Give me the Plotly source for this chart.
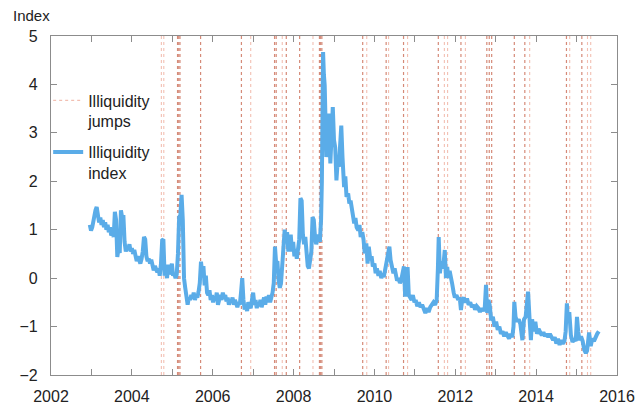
import plotly.graph_objects as go

# Illiquidity index (decimal years, index level)
index_dates = [
    2002.96, 2002.99, 2003.02, 2003.06, 2003.10, 2003.13, 2003.16, 2003.19, 2003.22, 2003.25,
    2003.28, 2003.31, 2003.34, 2003.37, 2003.40, 2003.43, 2003.46, 2003.49, 2003.52, 2003.55,
    2003.58, 2003.61, 2003.64, 2003.67, 2003.70, 2003.73, 2003.76, 2003.79, 2003.82, 2003.85,
    2003.88, 2003.91, 2003.94, 2003.97, 2004.00, 2004.03, 2004.06, 2004.09, 2004.12, 2004.15,
    2004.18, 2004.21, 2004.24, 2004.27, 2004.30, 2004.33, 2004.36, 2004.39, 2004.42, 2004.45,
    2004.48, 2004.51, 2004.54, 2004.57, 2004.60, 2004.63, 2004.66, 2004.69, 2004.72, 2004.75,
    2004.78, 2004.81, 2004.84, 2004.87, 2004.90, 2004.93, 2004.96, 2004.99, 2005.02, 2005.05,
    2005.08, 2005.11, 2005.14, 2005.17, 2005.20, 2005.23, 2005.26, 2005.29, 2005.32, 2005.35,
    2005.38, 2005.41, 2005.44, 2005.47, 2005.50, 2005.53, 2005.56, 2005.59, 2005.62, 2005.65,
    2005.68, 2005.71, 2005.74, 2005.77, 2005.80, 2005.83, 2005.86, 2005.89, 2005.92, 2005.95,
    2005.98, 2006.01, 2006.04, 2006.07, 2006.10, 2006.13, 2006.16, 2006.19, 2006.22, 2006.25,
    2006.28, 2006.31, 2006.34, 2006.37, 2006.40, 2006.43, 2006.46, 2006.49, 2006.52, 2006.55,
    2006.58, 2006.61, 2006.64, 2006.67, 2006.70, 2006.73, 2006.76, 2006.79, 2006.82, 2006.85,
    2006.88, 2006.91, 2006.94, 2006.97, 2007.00, 2007.03, 2007.06, 2007.09, 2007.12, 2007.15,
    2007.18, 2007.21, 2007.24, 2007.27, 2007.30, 2007.33, 2007.36, 2007.39, 2007.42, 2007.45,
    2007.48, 2007.51, 2007.54, 2007.57, 2007.60, 2007.63, 2007.66, 2007.69, 2007.72, 2007.75,
    2007.78, 2007.81, 2007.84, 2007.87, 2007.90, 2007.93, 2007.96, 2007.99, 2008.02, 2008.05,
    2008.08, 2008.11, 2008.14, 2008.17, 2008.20, 2008.23, 2008.26, 2008.29, 2008.32, 2008.35,
    2008.38, 2008.41, 2008.44, 2008.47, 2008.50, 2008.53, 2008.56, 2008.59, 2008.62, 2008.65,
    2008.68, 2008.70, 2008.71, 2008.73, 2008.75, 2008.77, 2008.79, 2008.81, 2008.84, 2008.87,
    2008.91, 2008.94, 2008.97, 2009.00, 2009.03, 2009.06, 2009.09, 2009.12, 2009.15, 2009.18,
    2009.21, 2009.25, 2009.28, 2009.31, 2009.35, 2009.38, 2009.41, 2009.44, 2009.47, 2009.50,
    2009.53, 2009.56, 2009.60, 2009.63, 2009.66, 2009.70, 2009.73, 2009.76, 2009.80, 2009.83,
    2009.86, 2009.90, 2009.93, 2009.96, 2010.00, 2010.03, 2010.06, 2010.10, 2010.13, 2010.17,
    2010.20, 2010.23, 2010.26, 2010.30, 2010.33, 2010.37, 2010.40, 2010.43, 2010.47, 2010.50,
    2010.53, 2010.56, 2010.60, 2010.63, 2010.66, 2010.70, 2010.73, 2010.76, 2010.79, 2010.82,
    2010.85, 2010.88, 2010.92, 2010.95, 2010.99, 2011.02, 2011.06, 2011.10, 2011.14, 2011.18,
    2011.22, 2011.26, 2011.30, 2011.34, 2011.38, 2011.42, 2011.46, 2011.50, 2011.54, 2011.57,
    2011.59, 2011.62, 2011.65, 2011.68, 2011.71, 2011.74, 2011.77, 2011.80, 2011.83, 2011.86,
    2011.89, 2011.92, 2011.96, 2011.99, 2012.03, 2012.07, 2012.11, 2012.14, 2012.17, 2012.21,
    2012.25, 2012.29, 2012.33, 2012.37, 2012.41, 2012.45, 2012.49, 2012.53, 2012.57, 2012.61,
    2012.65, 2012.69, 2012.73, 2012.76, 2012.79, 2012.82, 2012.85, 2012.89, 2012.93, 2012.97,
    2013.01, 2013.05, 2013.09, 2013.13, 2013.17, 2013.21, 2013.25, 2013.29, 2013.33, 2013.37,
    2013.41, 2013.44, 2013.46, 2013.49, 2013.53, 2013.57, 2013.61, 2013.66, 2013.70, 2013.74,
    2013.77, 2013.80, 2013.84, 2013.87, 2013.90, 2013.94, 2013.98, 2014.02, 2014.06, 2014.10,
    2014.14, 2014.18, 2014.22, 2014.26, 2014.30, 2014.34, 2014.38, 2014.42, 2014.46, 2014.50,
    2014.54, 2014.58, 2014.62, 2014.66, 2014.70, 2014.73, 2014.76, 2014.79, 2014.82, 2014.86,
    2014.90, 2014.94, 2014.98, 2015.01, 2015.04, 2015.07, 2015.11, 2015.15, 2015.19, 2015.23,
    2015.26, 2015.29, 2015.31, 2015.35, 2015.39, 2015.43, 2015.47, 2015.51, 2015.55,
]
index_values = [
    1.10, 0.98, 1.05, 1.25, 1.40, 1.47, 1.30, 1.15, 1.25, 1.10,
    1.20, 1.05, 1.15, 1.00, 1.10, 0.95, 1.05, 0.88, 0.95, 0.85,
    1.37, 1.20, 0.44, 0.60, 0.52, 1.40, 1.25, 1.30, 0.75, 0.55,
    0.65, 0.58, 0.70, 0.55, 0.62, 0.50, 0.58, 0.44, 0.35, 0.45,
    0.38, 0.30, 0.40, 0.55, 0.85, 0.80, 0.45, 0.35, 0.40, 0.30,
    0.38, 0.22, 0.16, 0.25, 0.18, 0.12, 0.20, 0.05, 0.30, 0.78,
    0.80, 0.05, 0.20, 0.00, 0.28, 0.08, 0.15, 0.30, 0.05, 0.10,
    0.00, 0.08, 0.50, 1.26, 1.30, 1.72, 1.20, 0.00, -0.20, -0.35,
    -0.55, -0.40, -0.45, -0.35, -0.42, -0.30, -0.45, -0.35, -0.40, -0.28,
    -0.10, 0.34, 0.10, 0.25, -0.15, 0.05, -0.30, -0.35, -0.25, -0.45,
    -0.35, -0.50, -0.38, -0.45, -0.30, -0.55, -0.42, -0.35, -0.45, -0.30,
    -0.40, -0.35, -0.48, -0.40, -0.55, -0.45, -0.50, -0.40, -0.55, -0.45,
    -0.52, -0.60, -0.50, -0.55, -0.30, 0.00, -0.45, -0.65, -0.55, -0.68,
    -0.50, -0.60, -0.62, -0.45, -0.30, -0.55, -0.45, -0.62, -0.50, -0.58,
    -0.45, -0.60, -0.50, -0.40, -0.55, -0.38, -0.50, -0.35, -0.50, -0.40,
    -0.30, -0.10, 0.65, 0.30, 0.35, -0.05, -0.20, -0.10, 0.20, 0.60,
    1.00, 0.75, 0.95, 0.55, 0.80, 0.90, 0.55, 0.75, 0.45, 0.60,
    0.40, 0.55, 0.80, 1.65, 1.60, 0.90, 0.70, 0.85, 0.37, 0.25,
    0.20, 0.35, 0.55, 1.26, 1.20, 0.85, 0.70, 0.80, 0.90, 0.75,
    1.20, 2.00, 3.60, 4.67, 4.20, 3.98, 3.26, 2.50, 2.90, 3.40,
    2.37, 2.90, 3.53, 2.85, 2.70, 2.02, 2.40, 2.30, 2.70, 3.15,
    2.50, 1.88, 2.10, 1.68, 1.75, 1.54, 1.60, 1.40, 1.30, 1.13,
    1.24, 1.05, 0.99, 1.10, 0.85, 0.95, 0.80, 0.51, 0.72, 0.30,
    0.65, 0.37, 0.45, 0.24, 0.30, 0.10, 0.20, 0.05, 0.15, 0.00,
    0.10, 0.02, 0.15, 0.30, 0.45, 0.65, 0.37, 0.25, 0.10, 0.20,
    0.05, -0.05, 0.00, -0.10, -0.05, 0.10, 0.24, -0.38, 0.00, 0.23,
    -0.35, -0.40, -0.45, -0.35, -0.50, -0.45, -0.58, -0.50, -0.60, -0.55,
    -0.65, -0.72, -0.62, -0.70, -0.60, -0.55, -0.50, -0.55, -0.45, 0.20,
    0.85, 0.10, 0.35, 0.20, 0.30, 0.58, 0.00, 0.23, 0.00, 0.15,
    0.05, -0.10, -0.30, -0.40, -0.35, -0.45, -0.40, -0.66, -0.45, -0.40,
    -0.50, -0.42, -0.55, -0.50, -0.60, -0.55, -0.65, -0.58, -0.62, -0.70,
    -0.62, -0.68, -0.60, -0.14, -0.72, -0.45, -0.55, -0.87, -0.80, -1.00,
    -0.90, -1.07, -1.00, -1.15, -1.10, -1.20, -1.12, -1.18, -1.25, -1.15,
    -1.22, -1.00, -0.49, -0.80, -0.90, -0.85, -0.95, -1.28, -0.85, -0.80,
    -0.60, -0.28, -0.88, -1.28, -0.85, -1.10, -0.90, -1.15, -1.05, -1.12,
    -1.18, -1.12, -1.20, -1.15, -1.22, -1.15, -1.20, -1.28, -1.22, -1.35,
    -1.25, -1.38, -1.28, -1.35, -1.30, -1.10, -0.52, -0.90, -0.70, -1.18,
    -1.32, -1.25, -1.30, -0.80, -1.10, -1.28, -1.20, -1.30, -1.48, -1.55,
    -1.50, -1.30, -1.12, -1.40, -1.25, -1.30, -1.20, -1.15, -1.10,
]

# Dates of detected illiquidity jumps (strong and weaker)
jumps_strong = [
    2005.13, 2005.16, 2005.19, 2005.70, 2006.71, 2007.53, 2007.57, 2007.82,
    2008.15, 2008.64, 2008.67, 2008.70, 2009.71, 2010.29, 2010.72, 2011.58,
    2012.14, 2012.78, 2012.84, 2012.90, 2013.46, 2013.72, 2014.75, 2015.13,
]
jumps_weak = [
    2004.73, 2004.79, 2006.94, 2007.72, 2008.48, 2009.81, 2010.35, 2010.82,
    2011.73, 2011.81, 2012.25, 2013.84, 2014.83, 2015.27, 2015.35,
]

y_range = [-2, 5]
x_range = [2002, 2016]

FONT = "Liberation Sans, Arial, sans-serif"


def vlines(dates):
    xs, ys = [], []
    for d in dates:
        xs += [d, d, None]
        ys += [y_range[0], y_range[1], None]
    return xs, ys


fig = go.Figure()

wx, wy = vlines(jumps_weak)
fig.add_trace(go.Scatter(
    x=wx, y=wy, mode="lines", name="Illiquidity<br>jumps",
    line=dict(color="#f2bfb2", width=1.1, dash="dot"),
    legendgroup="jumps", hoverinfo="skip",
))
sx, sy = vlines(jumps_strong)
fig.add_trace(go.Scatter(
    x=sx, y=sy, mode="lines", name="Illiquidity jumps",
    line=dict(color="#d58a78", width=1.2, dash="dot"),
    legendgroup="jumps", showlegend=False, hoverinfo="skip",
))
fig.add_trace(go.Scatter(
    x=index_dates, y=index_values, mode="lines", name="Illiquidity<br>index",
    line=dict(color="#5aace8", width=4),
))

axis_common = dict(
    showgrid=False, zeroline=False, showline=True, linecolor="#8c8c8c",
    linewidth=1.3, mirror="ticks", ticks="inside", ticklen=6,
    tickcolor="#8c8c8c", tickwidth=1.3, automargin=False,
    tickfont=dict(family=FONT, size=16, color="#222"),
)

fig.update_xaxes(
    range=x_range, tickmode="linear", tick0=2002, dtick=2,
    minor=dict(dtick=1, ticks="inside", ticklen=6, tickcolor="#8c8c8c", tickwidth=1.3),
    ticklabelstandoff=7,
    **axis_common,
)
fig.update_yaxes(
    range=y_range, tickmode="linear", tick0=-2, dtick=1,
    ticklabelstandoff=9,
    **axis_common,
)

fig.add_annotation(
    text="Index", xref="paper", yref="paper", x=-0.07, y=1.03,
    xanchor="left", yanchor="bottom", showarrow=False,
    font=dict(family=FONT, size=15, color="#222"),
)

fig.update_layout(
    width=635, height=408,
    margin=dict(l=51, r=18, t=36, b=33, autoexpand=False),
    paper_bgcolor="white", plot_bgcolor="white",
    showlegend=True,
    legend=dict(
        x=-0.005, y=0.86, xanchor="left", yanchor="top",
        bgcolor="rgba(0,0,0,0)", valign="top", itemwidth=30,
        tracegroupgap=7,
        font=dict(family=FONT, size=16, color="#222"),
    ),
    font=dict(family=FONT, size=16, color="#222"),
)

fig.write_html("out.html")
